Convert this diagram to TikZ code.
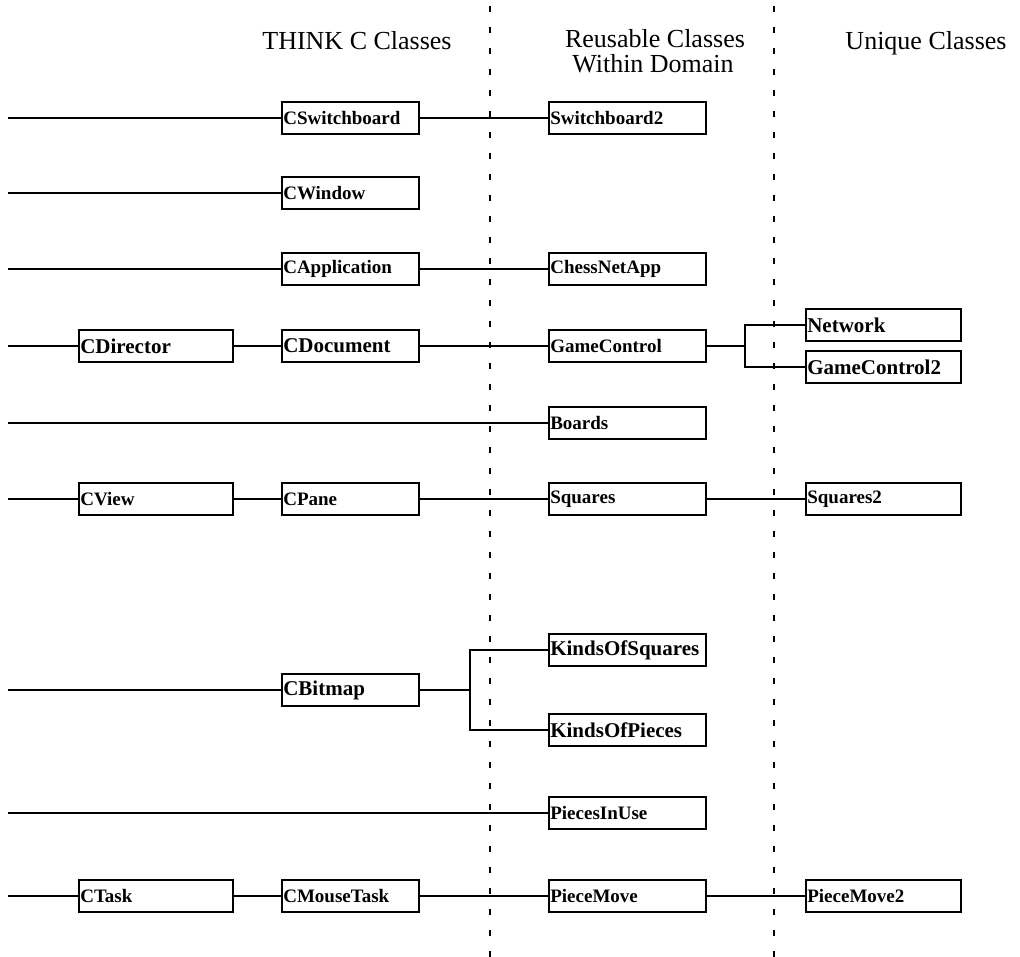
\documentclass[tikz,border=0pt]{standalone}
\usepackage{fontspec}
\setmainfont{Liberation Serif}
\usetikzlibrary{calc}
\begin{document}
\begin{tikzpicture}[x=1pt,y=-1pt,
  cls/.style={draw, line width=1.6pt, minimum height=32pt,
    align=left, inner xsep=1.5pt, inner ysep=0pt, anchor=west,
    font=\fontsize{19}{21}\selectfont\bfseries},
  wide/.style={font=\fontsize{21}{23}\selectfont\bfseries},
  colA/.style={cls, minimum width=154pt, text width=151pt},
  colB/.style={cls, minimum width=137pt, text width=134pt},
  colC/.style={cls, minimum width=157pt, text width=154pt},
  colD/.style={cls, minimum width=155pt, text width=152pt},
  link/.style={line width=1.6pt},
  title/.style={font=\fontsize{26}{30}\selectfont, anchor=base, inner sep=0pt},
  divider/.style={line width=2.6pt, dash pattern=on 6pt off 15pt}]
\useasboundingbox (0,0) rectangle (1020,957);
% dividers
\coordinate (d1t) at (490,6); \coordinate (d1b) at (490,957);
\coordinate (d2t) at (774,6); \coordinate (d2b) at (774,957);
\draw[divider] (d1t) -- (d1b);
\draw[divider] (d2t) -- (d2b);
% titles
\node[title] (tthink) at (357,50) {THINK C Classes};
\node[title] (treuse1) at (655,48) {Reusable Classes};
\node[title] (treuse2) at (653,73) {Within Domain};
\node[title] (tunique) at (926,50) {Unique Classes};
% row 1
\coordinate (s1) at (8,118);
\node[colB] (csw) at (281,118) {CSwitchboard};
\node[colC] (sw2) at (548,118) {Switchboard2};
\draw[link] (s1) -- (csw.west);
\draw[link] (csw.east) -- (sw2.west);
% row 2
\coordinate (s2) at (8,193);
\node[colB] (cwin) at (281,193) {CWindow};
\draw[link] (s2) -- (cwin.west);
% row 3
\coordinate (s3) at (8,269);
\node[colB] (capp) at (281,269) {CApplication};
\node[colC] (cna) at (548,269) {ChessNetApp};
\draw[link] (s3) -- (capp.west);
\draw[link] (capp.east) -- (cna.west);
% row 4
\coordinate (s4) at (8,346);
\node[colA, wide] (cdir) at (78,346) {CDirector};
\node[colB, wide] (cdoc) at (281,346) {CDocument};
\node[colC] (gc) at (548,346) {GameControl};
\node[colD, wide] (net) at (805,325) {Network};
\node[colD, wide] (gc2) at (805,367) {GameControl2};
\coordinate (b1) at (745,346);
\draw[link] (s4) -- (cdir.west);
\draw[link] (cdir.east) -- (cdoc.west);
\draw[link] (cdoc.east) -- (gc.west);
\draw[link] (gc.east) -- (b1);
\draw[link] (b1) |- (net.west);
\draw[link] (b1) |- (gc2.west);
% row 5
\coordinate (s5) at (8,423);
\node[colC] (boards) at (548,423) {Boards};
\draw[link] (s5) -- (boards.west);
% row 6
\coordinate (s6) at (8,499);
\node[colA] (cview) at (78,499) {CView};
\node[colB] (cpane) at (281,499) {CPane};
\node[colC] (sq) at (548,499) {Squares};
\node[colD] (sq2) at (805,499) {Squares2};
\draw[link] (s6) -- (cview.west);
\draw[link] (cview.east) -- (cpane.west);
\draw[link] (cpane.east) -- (sq.west);
\draw[link] (sq.east) -- (sq2.west);
% row 7
\coordinate (s7) at (8,690);
\node[colB, wide] (cbmp) at (281,690) {CBitmap};
\node[colC, wide] (kos) at (548,650) {KindsOfSquares};
\node[colC, wide] (kop) at (548,730) {KindsOfPieces};
\coordinate (b2) at (470,690);
\draw[link] (s7) -- (cbmp.west);
\draw[link] (cbmp.east) -- (b2);
\draw[link] (b2) |- (kos.west);
\draw[link] (b2) |- (kop.west);
% row 8
\coordinate (s8) at (8,813);
\node[colC] (piu) at (548,813) {PiecesInUse};
\draw[link] (s8) -- (piu.west);
% row 9
\coordinate (s9) at (8,896);
\node[colA] (ctask) at (78,896) {CTask};
\node[colB] (cmt) at (281,896) {CMouseTask};
\node[colC] (pm) at (548,896) {PieceMove};
\node[colD] (pm2) at (805,896) {PieceMove2};
\draw[link] (s9) -- (ctask.west);
\draw[link] (ctask.east) -- (cmt.west);
\draw[link] (cmt.east) -- (pm.west);
\draw[link] (pm.east) -- (pm2.west);
\end{tikzpicture}
\end{document}
